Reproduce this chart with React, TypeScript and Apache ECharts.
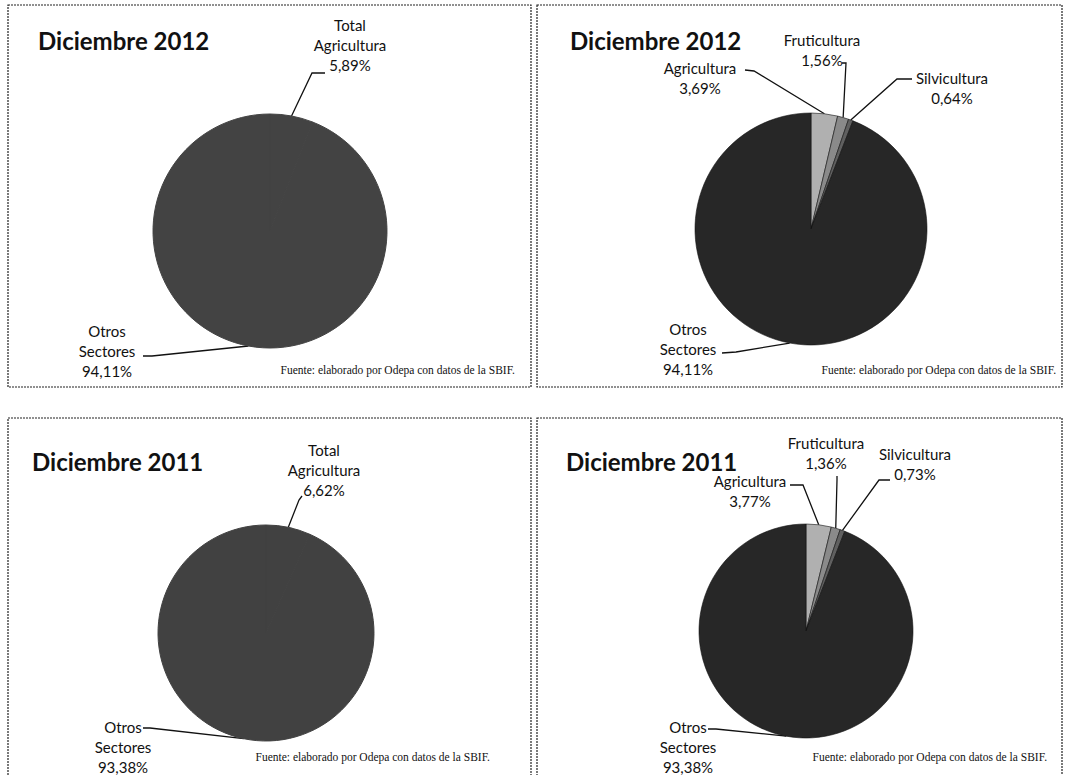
import React, { useEffect, useRef } from 'react';
import * as echarts from 'echarts';

// ---------- data ----------
const panelTitles = ['Diciembre 2012', 'Diciembre 2012', 'Diciembre 2011', 'Diciembre 2011'];
const totalCategories = ['Total Agricultura', 'Otros Sectores'];
const total2012 = [5.89, 94.11];
const total2011 = [6.62, 93.38];
const detailCategories = ['Agricultura', 'Fruticultura', 'Silvicultura', 'Otros Sectores'];
const detail2012 = [3.69, 1.56, 0.64, 94.11];
const detail2011 = [3.77, 1.36, 0.73, 93.38];
const sourceNote = 'Fuente: elaborado por Odepa con datos de la SBIF.';

// ---------- layout & style ----------
const W = 1065;
const H = 775;
const panels = [
  { cats: totalCategories, vals: total2012, box: [8, 5, 523, 382], center: [270, 231], r: 117, title: [38, 40], source: [515, 370], colors: ['#434343', '#434343'], borderColor: null },
  { cats: detailCategories, vals: detail2012, box: [537, 5, 525, 382], center: [811, 229], r: 116, title: [570, 40], source: [1056, 370], colors: ['#b0b0b0', '#8a8a8a', '#606060', '#272727'], borderColor: '#111' },
  { cats: totalCategories, vals: total2011, box: [8, 418, 523, 380], center: [266, 633], r: 108, title: [32, 461], source: [490, 757], colors: ['#414141', '#414141'], borderColor: null },
  { cats: detailCategories, vals: detail2011, box: [537, 418, 525, 380], center: [806, 631], r: 107, title: [566, 461], source: [1047, 757], colors: ['#b0b0b0', '#8a8a8a', '#606060', '#272727'], borderColor: '#111' },
];

// label anchor (text centre), elbow and end of the leader line, per slice
const labelPlacement = [
  [
    { at: [350, 45], elbow: [312, 73], end: [325, 73] },
    { at: [107, 351], elbow: [152, 356], end: [143, 356] },
  ],
  [
    { at: [700, 78], elbow: [754, 71], end: [745, 70] },
    { at: [822, 50], elbow: [846, 63], end: [842, 63] },
    { at: [952, 88], elbow: [897, 79], end: [912, 79] },
    { at: [688, 349], elbow: [736, 352], end: [722, 353] },
  ],
  [
    { at: [324, 470], elbow: [299, 500], end: [302, 496] },
    { at: [123, 747], elbow: [150, 728], end: [143, 728] },
  ],
  [
    { at: [750, 491], elbow: [803, 485], end: [790, 485] },
    { at: [826, 453], elbow: [837, 480], end: [837, 476] },
    { at: [915, 464], elbow: [879, 480], end: [890, 480] },
    { at: [688, 747], elbow: [716, 729], end: [708, 729] },
  ],
];

const fmtPct = (v: number) => v.toFixed(2).replace('.', ',') + '%';
const labelName = (n: string) => n.replace(' ', '\n');

function edgePoint(p: any, idx: number) {
  const total = p.vals.reduce((a: number, b: number) => a + b, 0);
  let before = 0;
  for (let k = 0; k < idx; k++) before += p.vals[k];
  const mid = ((before + p.vals[idx] / 2) / total) * Math.PI * 2;
  return [p.center[0] + p.r * Math.sin(mid), p.center[1] - p.r * Math.cos(mid)];
}

export default function App() {
  const ref = useRef<HTMLDivElement>(null);

  useEffect(() => {
    if (!ref.current) return;
    const chart = echarts.init(ref.current, undefined, { renderer: 'svg' });

    const series = panels.map((p, i) => ({
      type: 'pie',
      center: p.center,
      radius: p.r,
      startAngle: 90,
      clockwise: true,
      avoidLabelOverlap: false,
      silent: true,
      data: p.cats.map((n, k) => ({
        name: n,
        value: p.vals[k],
        itemStyle: {
          color: p.colors[k],
          borderColor: p.borderColor || p.colors[k],
          borderWidth: p.borderColor ? 0.6 : 1,
        },
      })),
      label: {
        show: true,
        position: 'outside',
        formatter: (pr: any) => labelName(pr.name) + '\n' + fmtPct(pr.value),
        fontFamily: 'Lato',
        fontSize: 15,
        lineHeight: 20,
        color: '#111',
        align: 'center',
      },
      labelLine: { show: true, length: 10, length2: 10, lineStyle: { color: '#111', width: 1.3 } },
      labelLayout: (params: any) => {
        const pl = labelPlacement[i][params.dataIndex];
        const p0 = params.labelLinePoints && params.labelLinePoints[0]
          ? params.labelLinePoints[0]
          : edgePoint(p, params.dataIndex);
        return {
          x: pl.at[0],
          y: pl.at[1],
          align: 'center',
          verticalAlign: 'middle',
          labelLinePoints: [p0, pl.elbow, pl.end],
        };
      },
    }));

    const titles: any[] = [];
    panels.forEach((p, i) => {
      titles.push({
        text: panelTitles[i],
        left: p.title[0],
        top: p.title[1] - 13,
        padding: 0,
        textStyle: { fontFamily: 'Lato', fontWeight: 'bold', fontSize: 24, lineHeight: 26, color: '#111' },
      });
      titles.push({
        text: sourceNote,
        right: W - p.source[0],
        top: p.source[1] - 7,
        padding: 0,
        textStyle: { fontFamily: 'Liberation Serif', fontWeight: 'normal', fontSize: 11.5, lineHeight: 14, color: '#111' },
      });
    });

    const graphic = panels.map((p) => ({
      type: 'rect',
      shape: { x: p.box[0], y: p.box[1], width: p.box[2], height: p.box[3] },
      style: { fill: 'none', stroke: '#222', lineWidth: 1.2, lineDash: [2, 1] },
      silent: true,
    }));

    chart.setOption({
      animation: false,
      backgroundColor: '#ffffff',
      title: titles,
      graphic,
      series,
    });

    return () => chart.dispose();
  }, []);

  return (
    <div
      ref={ref}
      style={{ position: 'absolute', left: 0, top: 0, width: W, height: H, background: '#fff' }}
    />
  );
}
